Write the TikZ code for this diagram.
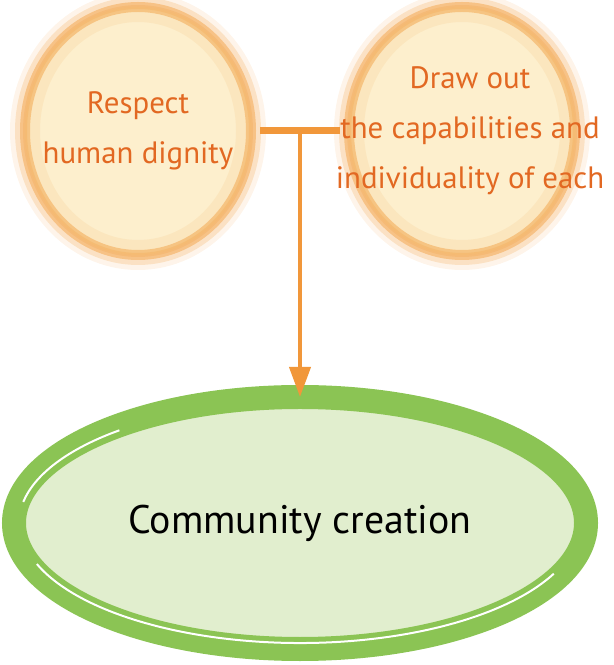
\documentclass[tikz,border=0pt]{standalone}
\usepackage{fontspec}
\setmainfont{PT Sans}
\usetikzlibrary{arrows.meta,shapes.geometric}
\definecolor{rimorange}{RGB}{243,168,82}
\definecolor{cream}{RGB}{253,239,205}
\definecolor{textorange}{RGB}{226,104,34}
\definecolor{linkorange}{RGB}{241,151,58}
\definecolor{brushgreen}{RGB}{139,196,84}
\definecolor{palegreen}{RGB}{225,238,206}

\begin{document}
\begin{tikzpicture}[x=1bp,y=1bp,
  bubble/.style={ellipse,minimum width=226bp,minimum height=248bp,
    inner sep=0pt,fill=cream,draw=rimorange,line width=10bp,draw opacity=.55,
    preaction={draw=rimorange,line width=20bp,draw opacity=.25},
    postaction={draw=rimorange,line width=30bp,draw opacity=.12},
    postaction={draw=rimorange,line width=4bp,draw opacity=.3}},
  caption/.style={text=textorange,align=center,
    font=\fontsize{31}{50}\selectfont},
  brush/.style={ellipse,minimum width=572bp,minimum height=252bp,
    outer sep=0pt,fill=palegreen,draw=brushgreen,line width=24bp,
    font=\fontsize{40}{48}\selectfont},
  gap/.style={white,line width=2bp},
  bar/.style={linkorange,line width=7bp,shorten <=4bp,shorten >=4bp},
  flow/.style={linkorange,line width=4bp,
    -{Triangle[length=30bp,width=21bp]}}]
\useasboundingbox (0,0) rectangle (614,665);
\node[bubble,label={[caption]center:{Respect\\human dignity}}]
  (dignity) at (138,534) {};
\node[bubble,label={[caption,xshift=8bp]center:{Draw out\\the capabilities and\\individuality of each}}]
  (ability) at (462,534) {};
\node[brush] (community) at (300,142) {Community creation};
% brush gaps
\draw[gap] ([shift={(200:280 and 120)}]community.center)
  arc[start angle=200,end angle=335,x radius=280,y radius=120];
\draw[gap] ([shift={(130:281 and 121)}]community.center)
  arc[start angle=130,end angle=170,x radius=281,y radius=121];
\draw[bar] (dignity.east) -- coordinate (split) (ability.west);
\draw[flow] (split) -- (split |- community.north);
\end{tikzpicture}
\end{document}
